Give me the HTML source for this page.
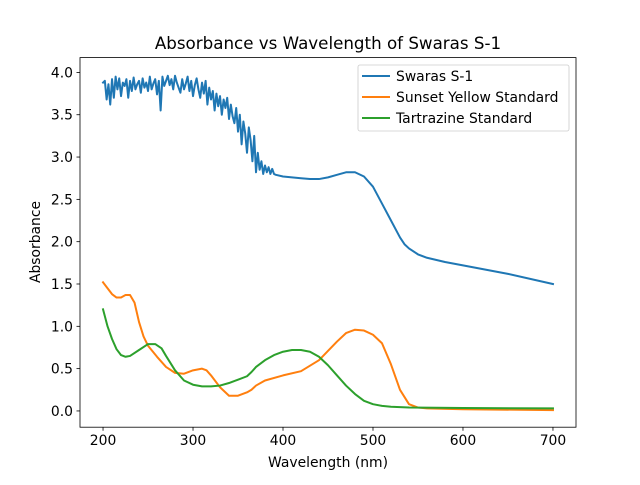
<!DOCTYPE html>
<html><head><meta charset="utf-8"><style>
body{margin:0;background:#fff;position:relative}
svg text{font-family:"DejaVu Sans","Liberation Sans",sans-serif;fill:#000}
</style></head><body>
<svg id="c" width="640" height="480"></svg>
<script>
const swarasNoisyStart=200, swarasNoisyStep=2;
const swarasNoisy=[3.88,3.9,3.68,3.86,3.62,3.92,3.7,3.95,3.8,3.93,3.72,3.88,3.84,3.92,3.7,3.9,3.78,3.94,3.8,3.86,3.9,3.76,3.93,3.82,3.88,3.78,3.95,3.8,3.87,3.92,3.74,3.9,3.55,3.95,3.84,3.9,3.96,3.85,3.92,3.8,3.96,3.88,3.82,3.76,3.92,3.8,
3.87,3.95,3.78,3.9,3.72,3.85,3.93,3.8,3.7,3.88,3.75,3.9,3.62,3.82,3.68,3.78,3.55,3.75,3.6,3.72,3.5,3.68,3.58,3.7,3.45,
3.62,3.48,3.4,3.58,3.3,3.5,3.15,3.42,3.28,3.05,3.35,3.2,2.95,3.25,2.82,
3.05,2.85,2.95,2.8,2.9,2.82,2.88,2.8,2.86,2.8];
const swarasX=[392,400,410,420,430,440,450,460,470,480,490,500,510,520,530,535,540,550,560,580,600,650,700];
const swarasY=[2.79,2.77,2.76,2.75,2.74,2.74,2.76,2.79,2.82,2.82,2.77,2.65,2.45,2.25,2.05,1.97,1.92,1.85,1.81,1.76,1.72,1.62,1.5];
const sunsetX=[200,205,210,215,220,225,230,235,240,245,250,260,270,280,290,300,310,315,320,330,340,350,360,365,370,380,400,420,440,460,470,480,490,500,510,520,530,540,550,560,600,700];
const sunsetY=[1.52,1.45,1.38,1.34,1.34,1.37,1.37,1.28,1.05,0.88,0.77,0.64,0.52,0.45,0.44,0.48,0.5,0.48,0.42,0.28,0.18,0.18,0.22,0.25,0.3,0.36,0.42,0.47,0.6,0.82,0.92,0.96,0.95,0.9,0.8,0.55,0.25,0.08,0.04,0.03,0.02,0.01];
const tartX=[200,205,210,215,220,225,230,240,250,258,265,270,280,290,300,310,320,330,340,350,360,365,370,380,390,400,410,420,430,440,450,460,470,480,490,500,510,520,540,600,700];
const tartY=[1.2,1.0,0.85,0.73,0.66,0.64,0.65,0.72,0.79,0.79,0.74,0.65,0.48,0.36,0.31,0.29,0.29,0.3,0.33,0.37,0.41,0.46,0.52,0.6,0.66,0.7,0.72,0.72,0.7,0.64,0.54,0.42,0.3,0.2,0.12,0.08,0.06,0.05,0.04,0.035,0.03];
const xTicks=[200,300,400,500,600,700];
const yTicks=[0,0.5,1,1.5,2,2.5,3,3.5,4];
const L=80,R=576,T=57.6,B=427.2, xmin=174.4,xmax=725.6,ymin=-0.192,ymax=4.175;
const sx=v=>L+(v-xmin)/(xmax-xmin)*(R-L), sy=v=>B-(v-ymin)/(ymax-ymin)*(B-T);
const svg=document.getElementById('c'), NS='http://www.w3.org/2000/svg';
function mk(t,a,p){const e=document.createElementNS(NS,t);for(const k in a)e.setAttribute(k,a[k]);(p||svg).appendChild(e);return e;}
function line(xs,ys,col,name){
  const p=mk('path',{d:xs.map((x,i)=>(i?'L':'M')+sx(x).toFixed(2)+','+sy(ys[i]).toFixed(2)).join(''),fill:'none',stroke:col,'stroke-width':2,'stroke-linejoin':'round','stroke-linecap':'square'});
  
  
}
const bx=swarasNoisy.map((v,i)=>swarasNoisyStart+i*swarasNoisyStep).concat(swarasX);
const by=swarasNoisy.concat(swarasY);
line(bx,by,'#1f77b4','series-swaras');
line(sunsetX,sunsetY,'#ff7f0e','series-sunset-yellow');
line(tartX,tartY,'#2ca02c','series-tartrazine');
const fr=mk('rect',{x:L,y:T,width:R-L,height:B-T,fill:'none',stroke:'#000','stroke-width':0.8});


xTicks.forEach(v=>{
  mk('line',{x1:sx(v),x2:sx(v),y1:B,y2:B+3.5,stroke:'#000','stroke-width':0.8});
  const t=mk('text',{x:sx(v),y:B+18,'text-anchor':'middle','font-size':13.9});t.textContent=v;
  
  
});
yTicks.forEach(v=>{
  mk('line',{x1:L,x2:L-3.5,y1:sy(v),y2:sy(v),stroke:'#000','stroke-width':0.8});
  const t=mk('text',{x:L-7,y:sy(v)+5,'text-anchor':'end','font-size':13.9});t.textContent=v.toFixed(1);
  
  
});
</script>
<svg width="640" height="480" style="position:absolute;left:0;top:0">
<text x="328" y="49" text-anchor="middle" font-size="16.7">Absorbance vs Wavelength of Swaras S-1</text>
<text x="328" y="467" text-anchor="middle" font-size="13.9">Wavelength (nm)</text>
<text x="40" y="242" text-anchor="middle" font-size="13.9" transform="rotate(-90 40 242)">Absorbance</text>
<g>
<rect x="358" y="65" width="211" height="66" rx="2" fill="#fff" fill-opacity="0.8" stroke="#ccc" stroke-width="0.8"/>
<line x1="362" y1="76" x2="390" y2="76" stroke="#1f77b4" stroke-width="2"/>
<text x="396" y="81" font-size="13.9">Swaras S-1</text>
<line x1="362" y1="97" x2="390" y2="97" stroke="#ff7f0e" stroke-width="2"/>
<text x="396" y="102" font-size="13.9">Sunset Yellow Standard</text>
<line x1="362" y1="118" x2="390" y2="118" stroke="#2ca02c" stroke-width="2"/>
<text x="396" y="123" font-size="13.9">Tartrazine Standard</text>
</g>
</svg>
</body></html>
